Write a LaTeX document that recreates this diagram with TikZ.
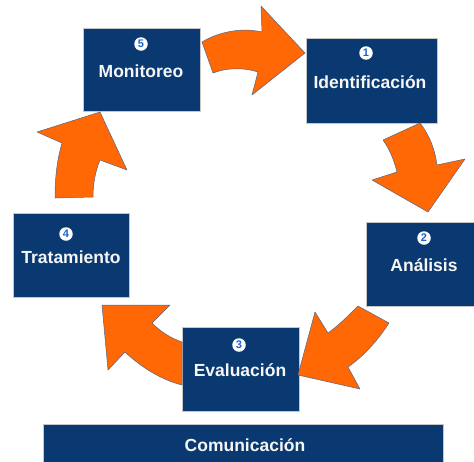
\documentclass[tikz,border=0pt]{standalone}
\usepackage{fontspec}
\setmainfont{Liberation Sans}
\definecolor{navy}{RGB}{9,57,112}
\definecolor{arroworange}{RGB}{255,104,4}
\definecolor{arrowedge}{RGB}{90,100,130}
\definecolor{numblue}{RGB}{30,100,200}
\begin{document}
\begin{tikzpicture}[x=1pt,y=-1pt,
  box/.style={fill=navy,draw=gray!45,line width=0.6pt,inner sep=0pt},
  lbl/.style={text=white!93!gray,font=\fontsize{17.5}{20}\selectfont\bfseries,inner sep=0pt},
  num/.style={circle,fill=white,inner sep=0pt,minimum size=13.5pt,text=numblue,font=\fontsize{11}{11}\selectfont\bfseries},
  blockarrow/.style={fill=arroworange,draw=arrowedge,line width=0.5pt,line join=round}]
\clip (0,0) rectangle (474,461);
\fill[white] (0,0) rectangle (474,461);
% boxes
\node[box,minimum width=117pt,minimum height=83pt] (mon) at (141.5,69.5) {};
\node[box,minimum width=131pt,minimum height=85pt] (ide) at (371.5,80.5) {};
\node[box,minimum width=116pt,minimum height=84pt] (ana) at (424,264) {};
\node[box,minimum width=116pt,minimum height=84pt] (tra) at (71,255) {};
\node[box,minimum width=117pt,minimum height=84pt] (eva) at (240.5,369) {};
\node[box,minimum width=400pt,minimum height=42pt] (com) at (243,445) {};
% numbers
\node[num] (n5) at (141,44) {5};
\node[num] (n1) at (366,53) {1};
\node[num] (n2) at (424,238) {2};
\node[num] (n4) at (66,234) {4};
\node[num] (n3) at (239,345) {3};
% labels
\node[lbl] (t5) at (141,71) {Monitoreo};
\node[lbl] (t1) at (370,82) {Identificación};
\node[lbl] (t2) at (424,265) {Análisis};
\node[lbl] (t4) at (71,257) {Tratamiento};
\node[lbl] (t3) at (240,370) {Evaluación};
\node[lbl] (tc) at (245,445) {Comunicación};
% arrows
% 5 -> 1
\draw[blockarrow] (202,42) .. controls (222,30) and (245,28) .. (262,32)
  -- (261,6) -- (305,53) -- (252,95) -- (258,72)
  .. controls (242,67) and (226,68) .. (213,73) -- cycle;
% 1 -> 2
\draw[blockarrow] (383,140) -- (420,123)
  .. controls (430,136) and (435,150) .. (437,165)
  -- (465,159) -- (428,212) -- (372,180) -- (397,172)
  .. controls (394,160) and (390,150) .. (383,140) -- cycle;
% 2 -> 3
\draw[blockarrow] (358,306) .. controls (348,316) and (338,326) .. (328,333)
  -- (315,312) -- (298,375) -- (360,389) -- (348,367)
  .. controls (364,356) and (378,340) .. (389,323) -- cycle;
% 3 -> 4
\draw[blockarrow] (182,342) .. controls (170,338) and (160,331) .. (152,323)
  -- (170,305) -- (102,305) -- (108,370) -- (125,352)
  .. controls (142,368) and (162,380) .. (182,385) -- cycle;
% 4 -> 5
\draw[blockarrow] (55,198) .. controls (55,178) and (57,160) .. (62,143)
  -- (37,132) -- (100,112) -- (127,170) -- (100,160)
  .. controls (95,172) and (93,185) .. (93,197) -- cycle;
\end{tikzpicture}
\end{document}
